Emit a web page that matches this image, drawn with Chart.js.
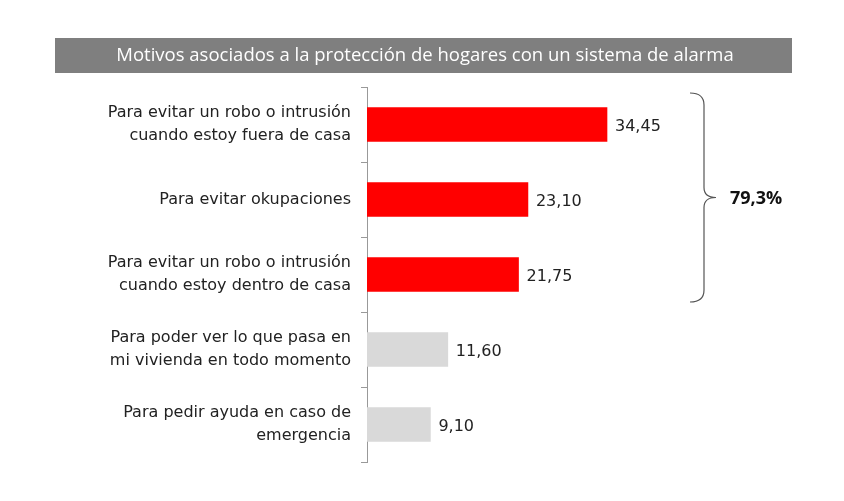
<!DOCTYPE html>
<html>
<head>
<meta charset="UTF-8" />
<title>Motivos alarma</title>
<style>
  body { margin: 0; background: #fff; }
  #wrap { width: 844px; height: 501px; }
</style>
</head>
<body>
<div id="wrap"><canvas id="chartId" width="844" height="501"></canvas></div>
<script src="https://cdn.jsdelivr.net/npm/chart.js@4/dist/chart.umd.min.js"></script>
<script>
const titleText = 'Motivos asociados a la protección de hogares con un sistema de alarma';
const categories = [
  ['Para evitar un robo o intrusión', 'cuando estoy fuera de casa'],
  'Para evitar okupaciones',
  ['Para evitar un robo o intrusión', 'cuando estoy dentro de casa'],
  ['Para poder ver lo que pasa en', 'mi vivienda en todo momento'],
  ['Para pedir ayuda en caso de', 'emergencia']
];
const values = [34.45, 23.10, 21.75, 11.60, 9.10];
const valueLabels = ['34,45', '23,10', '21,75', '11,60', '9,10'];
const barColors = ['#ff0000', '#ff0000', '#ff0000', '#d9d9d9', '#d9d9d9'];
const braceLabel = '79,3%';

const FONT = '"Open Sans", sans-serif';
const LFONT = '"DejaVu Sans", sans-serif';

const extras = {
  id: 'extras',
  afterDraw(chart) {
    const c = chart.ctx;
    // title bar
    c.save();
    c.fillStyle = '#7f7f7f';
    c.fillRect(55, 38, 737, 35);
    c.fillStyle = '#fff';
    c.font = '18.5px ' + FONT;
    c.textAlign = 'center';
    c.textBaseline = 'middle';
    c.fillText(titleText, 425, 56);

    // value labels
    const meta = chart.getDatasetMeta(0);
    c.fillStyle = '#222';
    c.font = '16px ' + LFONT;
    c.textAlign = 'left';
    meta.data.forEach((bar, i) => {
      c.fillText(valueLabels[i], bar.x + 8, bar.y + 2);
    });

    // brace
    const top = 93, bot = 302, mid = (top + bot) / 2;
    const x0 = 690, x1 = 704, x2 = 716;
    c.strokeStyle = '#555';
    c.lineWidth = 1.2;
    c.beginPath();
    c.moveTo(x0, top);
    c.quadraticCurveTo(x1, top, x1, top + 12);
    c.lineTo(x1, mid - 10);
    c.quadraticCurveTo(x1, mid, x2, mid);
    c.quadraticCurveTo(x1, mid, x1, mid + 10);
    c.lineTo(x1, bot - 12);
    c.quadraticCurveTo(x1, bot, x0, bot);
    c.stroke();
    c.fillStyle = '#111';
    c.font = 'bold 18px ' + FONT;
    c.fillText(braceLabel, 730, mid + 1);
    c.restore();
  }
};

new Chart(document.getElementById('chartId'), {
  type: 'bar',
  data: {
    labels: categories,
    datasets: [{
      data: values,
      backgroundColor: barColors,
      barThickness: 34
    }]
  },
  options: {
    indexAxis: 'y',
    responsive: false,
    animation: false,
    layout: { padding: { top: 87, bottom: 39, right: 59, left: 0 } },
    plugins: { legend: { display: false }, tooltip: { enabled: false } },
    scales: {
      x: { display: false, min: 0, max: 60 },
      y: {
        afterFit(s) { s.width = 367; },
        border: { display: true, color: '#999', width: 1 },
        grid: { offset: true, drawOnChartArea: false, tickLength: 6, color: '#999' },
        ticks: { color: '#222', font: { family: LFONT, size: 16, lineHeight: 1.4 }, padding: 10 }
      }
    }
  },
  plugins: [extras]
});
</script>
</body>
</html>
